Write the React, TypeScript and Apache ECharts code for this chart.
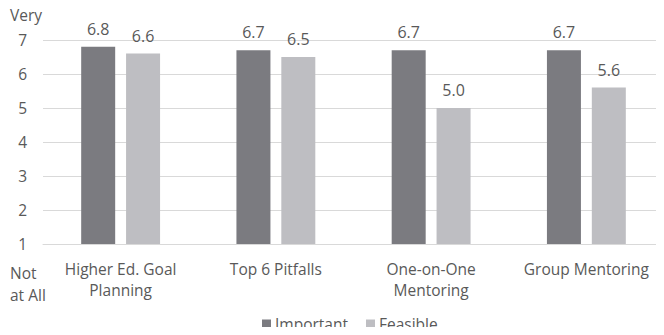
import React, { useEffect, useRef } from "react";
import * as echarts from "echarts";

const categories = [
  "Higher Ed. Goal\nPlanning",
  "Top 6 Pitfalls",
  "One-on-One\nMentoring",
  "Group Mentoring",
];
const importantValues = [6.8, 6.7, 6.7, 6.7];
const feasibleValues = [6.6, 6.5, 5.0, 5.6];
const yTicks = [1, 2, 3, 4, 5, 6, 7];

const TEXT = "#595959";
const FONT = "'Open Sans', sans-serif";

export default function App() {
  const ref = useRef<HTMLDivElement>(null);

  useEffect(() => {
    if (!ref.current) return;
    const chart = echarts.init(ref.current, null, { renderer: "svg" });
    const valueLabel = {
      show: true,
      position: "top",
      distance: 10,
      color: TEXT,
      fontSize: 16,
      fontFamily: FONT,
      formatter: (p: any) => Number(p.value).toFixed(1),
    };
    chart.setOption({
      animation: false,
      textStyle: { fontFamily: FONT },
      grid: { left: 43, right: 0, top: 40, bottom: 91, containLabel: false },
      legend: {
        left: 262,
        top: 316,
        itemWidth: 9,
        itemHeight: 9,
        itemGap: 18,
        icon: "rect",
        padding: 0,
        textStyle: { color: TEXT, fontSize: 15.5, fontFamily: FONT, padding: [0, 0, 0, -1] },
        data: ["Important", "Feasible"],
      },
      xAxis: {
        type: "category",
        data: categories,
        axisLine: { show: true, lineStyle: { color: "#d9d9d9", width: 1 } },
        axisTick: { show: false },
        axisLabel: {
          color: TEXT,
          fontSize: 15.5,
          fontFamily: FONT,
          lineHeight: 21,
          margin: 14,
          interval: 0,
        },
      },
      yAxis: {
        type: "value",
        min: yTicks[0],
        max: yTicks[yTicks.length - 1],
        interval: 1,
        axisLine: { show: false },
        axisTick: { show: false },
        splitLine: { lineStyle: { color: "#d9d9d9", width: 1 } },
        axisLabel: { color: TEXT, fontSize: 15.5, fontFamily: FONT, margin: 16 },
      },
      graphic: [
        {
          type: "text",
          left: 10,
          top: 7,
          style: { text: "Very", fill: TEXT, fontSize: 15.5, fontFamily: FONT },
        },
        {
          type: "text",
          left: 10,
          top: 262,
          style: {
            text: "Not\nat All",
            fill: TEXT,
            fontSize: 15.5,
            fontFamily: FONT,
            lineHeight: 22,
          },
        },
      ],
      series: [
        {
          name: "Important",
          type: "bar",
          data: importantValues,
          barWidth: 34,
          barGap: "32%",
          itemStyle: { color: "#7b7b80" },
          label: valueLabel,
        },
        {
          name: "Feasible",
          type: "bar",
          data: feasibleValues,
          barWidth: 34,
          itemStyle: { color: "#bebec2" },
          label: valueLabel,
        },
      ],
    });
    return () => chart.dispose();
  }, []);

  return <div ref={ref} style={{ width: 664, height: 335, margin: -8 }} />;
}
